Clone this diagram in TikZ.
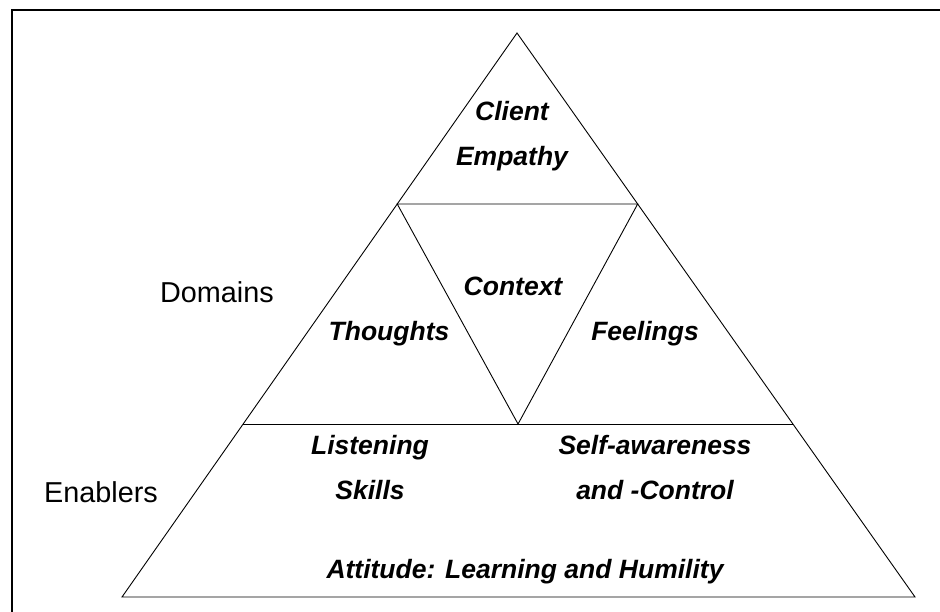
\documentclass[tikz,border=0pt]{standalone}
\usepackage{fontspec}
\setmainfont{Liberation Sans}
\usepackage{tikz}
\usetikzlibrary{calc}

\tikzset{
	part/.style={font=\fontsize{26.5}{45}\selectfont\bfseries\itshape, align=center, inner sep=0pt},
	level/.style={font=\fontsize{28.8}{34}\selectfont, inner sep=0pt}
}

\begin{document}
\begin{tikzpicture}[x=1pt,y=-1pt]
	\useasboundingbox (0,0) rectangle (940,612);
	% frame (only top and left edge are visible)
	\coordinate (frametl) at (12,10.5);
	\draw[line width=2pt] (12,612) -- (frametl) -- (940,10.5);
	
	% outer triangle
	\coordinate (apex) at (517,33);
	\coordinate (bl) at (122,597);
	\coordinate (br) at (915,597);
	\draw[line width=0.9pt] (apex) -- (bl) -- (br) -- cycle;
	
	% points on the sides
	\coordinate (ul) at ($(apex)!0.3032!(bl)$);
	\coordinate (ur) at ($(apex)!0.3032!(br)$);
	\coordinate (ll) at ($(apex)!0.6933!(bl)$);
	\coordinate (lr) at ($(apex)!0.6933!(br)$);
	\coordinate (mid) at ($(ll)!0.5!(lr)$);
	
	\draw[line width=0.9pt] (ul) -- (ur) -- (mid) -- cycle;
	\draw[line width=0.9pt] (ll) -- (lr);
	
	% labels
	\node[part] (client) at (512,136) {Client\\Empathy};
	\node[part] (context) at (513,286) {Context};
	\node[part] (thoughts) at (389,334) {Thoughts};
	\node[part] (feelings) at (645,334) {Feelings};
	\node[part] (listening) at (370,468) {Listening\\Skills};
	\node[part] (selfaware) at (655,468) {Self-awareness\\and -Control};
	\node[part] (attitude) at (525,572) {Attitude: Learning and Humility};
	
	\node[level] (domains) at (217,292) {Domains};
	\node[level] (enablers) at (101,492) {Enablers};
\end{tikzpicture}
\end{document}
